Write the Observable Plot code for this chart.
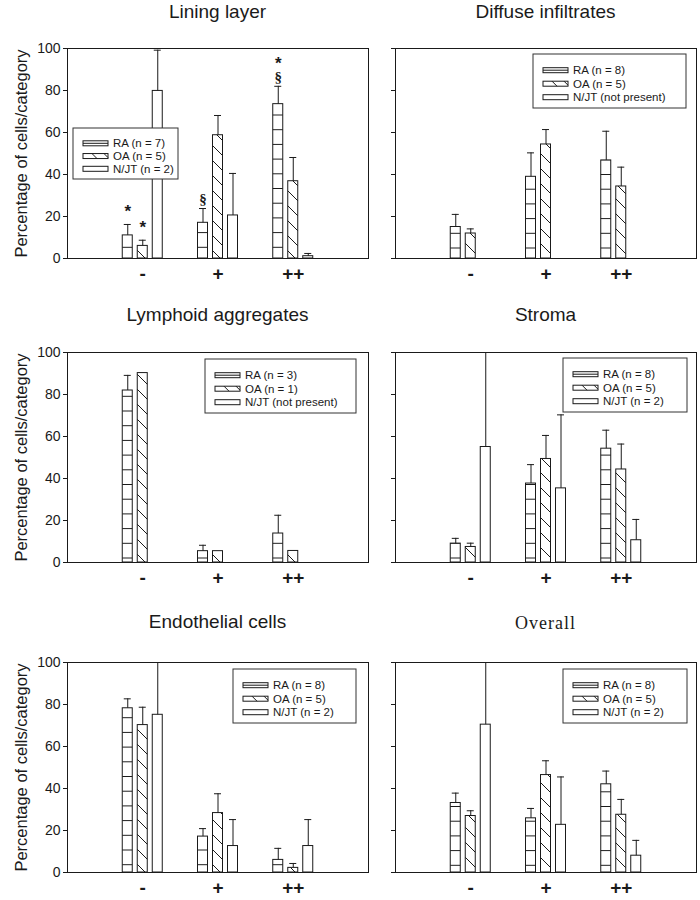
<!DOCTYPE html>
<html><head><meta charset="utf-8">
<script src="https://cdn.jsdelivr.net/npm/d3@7"></script>
<script src="https://cdn.jsdelivr.net/npm/@observablehq/plot@0.6"></script>
<style>
body{margin:0;background:#fff;}
#root{position:relative;width:700px;height:900px;overflow:hidden;font-family:"Liberation Sans",Arial,sans-serif;color:#1a1a1a;background:#fff;}
.title{position:absolute;text-align:center;font-size:19px;line-height:20px;white-space:nowrap;}
.title.serif{font-family:"Liberation Serif","Times New Roman",serif;font-size:18px;letter-spacing:1px;}
.panel{position:absolute;}
.panel svg{display:block;overflow:visible;}
</style></head><body><div id="root"></div>
<script>
// ---------- data ----------
const categories = ["-", "+", "++"];
const seriesNames = ["RA", "OA", "N/JT"];
const yTicks = [0, 20, 40, 60, 80, 100];
const yLabel = "Percentage of cells/category";

// means per series [RA, OA, N/JT] x categories [-, +, ++]; SD (upper error bar)
const liningMeans = [[11.0, 17.0, 73.5], [6.0, 58.7, 36.8], [79.8, 20.5, 1.1]];
const liningSDs   = [[5.2, 6.8, 8.5], [2.7, 9.4, 11.3], [19.4, 20.0, 1.3]];
const liningLegend = ["RA (n = 7)", "OA (n = 5)", "N/JT (n = 2)"];
// significance symbols, listed bottom to top for each bar
const liningMarks = [
  {cat: "-", series: "RA", sym: "*"},
  {cat: "-", series: "OA", sym: "*"},
  {cat: "+", series: "RA", sym: "§"},
  {cat: "++", series: "RA", sym: "§"},
  {cat: "++", series: "RA", sym: "*"}
];

const diffuseMeans = [[15.0, 38.9, 46.7], [11.9, 54.3, 34.3], [null, null, null]];
const diffuseSDs   = [[6.0, 11.4, 13.9], [2.2, 7.1, 9.2], [null, null, null]];
const diffuseLegend = ["RA (n = 8)", "OA (n = 5)", "N/JT (not present)"];

const lymphoidMeans = [[81.9, 5.4, 13.8], [90.2, 5.4, 5.5], [null, null, null]];
const lymphoidSDs   = [[7.2, 2.8, 8.7], [null, null, null], [null, null, null]];
const lymphoidLegend = ["RA (n = 3)", "OA (n = 1)", "N/JT (not present)"];

const stromaMeans = [[9.0, 37.6, 54.2], [7.4, 49.3, 44.3], [55.0, 35.3, 10.6]];
const stromaSDs   = [[2.5, 9.0, 8.8], [1.8, 11.2, 12.1], [55.0, 35.0, 9.9]];
const stromaLegend = ["RA (n = 8)", "OA (n = 5)", "N/JT (n = 2)"];

const endoMeans = [[78.2, 17.1, 6.0], [70.2, 28.3, 2.2], [75.1, 12.6, 12.6]];
const endoSDs   = [[4.5, 3.8, 5.5], [8.5, 9.2, 2.1], [35.0, 12.6, 12.6]];
const endoLegend = ["RA (n = 8)", "OA (n = 5)", "N/JT (n = 2)"];

const overallMeans = [[33.1, 25.8, 42.0], [26.9, 46.4, 27.5], [70.4, 22.7, 8.0]];
const overallSDs   = [[4.7, 4.7, 6.3], [2.5, 6.8, 7.3], [40.0, 22.8, 7.3]];
const overallLegend = ["RA (n = 8)", "OA (n = 5)", "N/JT (n = 2)"];

// ---------- layout ----------
const rowSvgTop = [38, 342, 652];
const rowTitleBaseline = [18.3, 321.7, 629];
const panels = [
  {title: "Lining layer", means: liningMeans, sds: liningSDs, legend: liningLegend, marks: liningMarks, col: 0, row: 0, raOff: 10.7, box: [73, 128, 105, 51]},
  {title: "Diffuse infiltrates", means: diffuseMeans, sds: diffuseSDs, legend: diffuseLegend, marks: [], col: 1, row: 0, raOff: 10, box: [533, 54, 153, 54]},
  {title: "Lymphoid aggregates", means: lymphoidMeans, sds: lymphoidSDs, legend: lymphoidLegend, marks: [], col: 0, row: 1, raOff: 4, box: [205, 359, 151, 54]},
  {title: "Stroma", means: stromaMeans, sds: stromaSDs, legend: stromaLegend, marks: [], col: 1, row: 1, raOff: 4, box: [563, 358, 124, 54]},
  {title: "Endothelial cells", means: endoMeans, sds: endoSDs, legend: endoLegend, marks: [], col: 0, row: 2, raOff: 7.3, box: [233, 669, 123, 54]},
  {title: "Overall", means: overallMeans, sds: overallSDs, legend: overallLegend, marks: [], col: 1, row: 2, raOff: 6.7, box: [563, 669, 124, 54], serif: true}
];

const INK = "#1a1a1a";
const root = document.getElementById("root");

panels.forEach((p, idx) => {
  const isLeft = p.col === 0;
  const svgLeft = isLeft ? 0 : 350;
  const svgTop = rowSvgTop[p.row];
  const W = isLeft ? 372 : 350;
  const mL = isLeft ? 67 : 45, mR = 4, mT = 10, mB = 30, H = 250;
  const frameW = W - mL - mR;
  const frameH = H - mT - mB;
  const unit = frameW / 4;
  const off = 15 / unit, half = 5 / unit, capHalf = 3.5 / unit;
  const pid = "p" + idx;

  const bars = [];
  p.means.forEach((arr, si) => arr.forEach((m, ci) => {
    if (m == null) return;
    const sd = p.sds[si][ci];
    bars.push({si, ci, cat: categories[ci], series: seriesNames[si], mean: m, sd, xc: ci + 1 + (si - 1) * off});
  }));
  const errs = bars.filter(d => d.sd != null);
  const fills = [`url(#${pid}-ra)`, `url(#${pid}-oa)`, "white"];

  const marks = [
    Plot.axisY({ticks: yTicks, tickSize: 4, tickPadding: 3, fontSize: 14, label: null,
                tickFormat: isLeft ? (d => String(d)) : (() => "")}),
    Plot.axisX({ticks: [1, 2, 3], tickFormat: d => categories[d - 1], tickSize: 0, tickPadding: 8,
                fontSize: 19, fontWeight: "bold", label: null}),
    ...[0, 1, 2].map(si => Plot.rect(bars.filter(d => d.si === si), {
      x1: d => d.xc - half, x2: d => d.xc + half, y1: 0, y2: "mean",
      fill: fills[si], stroke: INK, strokeWidth: 1
    })),
    Plot.ruleX(errs, {x: "xc", y1: "mean", y2: d => d.mean + d.sd, stroke: INK, strokeWidth: 1, clip: true}),
    Plot.ruleY(errs, {y: d => d.mean + d.sd, x1: d => d.xc - capHalf, x2: d => d.xc + capHalf, stroke: INK, strokeWidth: 1, clip: true}),
    Plot.frame({stroke: INK, strokeWidth: 1})
  ];
  if (isLeft) {
    marks.push(Plot.text([yLabel], {frameAnchor: "left", text: d => d, rotate: -90, dx: -46, fontSize: 16.5,
                                    textAnchor: "middle", lineAnchor: "middle", fill: INK}));
  }
  // significance annotations (stacked upward when several on one bar)
  p.marks.forEach((a, k) => {
    const b = bars.find(d => d.cat === a.cat && d.series === a.series);
    const level = p.marks.slice(0, k).filter(o => o.cat === a.cat && o.series === a.series).length;
    const top = b.mean + (b.sd || 0);
    const isStar = a.sym === "*";
    const dy = isStar ? (level ? -23 : -13) : -9;
    marks.push(Plot.text([{x: b.xc, y: top, t: a.sym}], {
      x: "x", y: "y", text: "t", dy,
      fontSize: isStar ? 17 : 15, fontWeight: "bold",
      fontFamily: isStar ? "Liberation Sans, Arial, sans-serif" : "Liberation Serif, Times New Roman, serif",
      fill: INK
    }));
  });

  const svgNode = Plot.plot({
    width: W, height: H, marginLeft: mL, marginRight: mR, marginTop: mT, marginBottom: mB,
    x: {type: "linear", domain: [0, 4], axis: null},
    y: {domain: [0, 100], axis: null},
    style: {fontFamily: "Liberation Sans, Arial, sans-serif", background: "transparent", color: INK, overflow: "visible"},
    marks
  });

  const svg = d3.select(svgNode);
  const defs = svg.insert("defs", ":first-child");
  const period = frameH * 7 / 100;
  const ra = defs.append("pattern").attr("id", pid + "-ra").attr("patternUnits", "userSpaceOnUse")
    .attr("x", 0).attr("y", mT + frameH - p.raOff - period / 2).attr("width", 20).attr("height", period);
  ra.append("rect").attr("width", 20).attr("height", period).attr("fill", "white");
  ra.append("line").attr("x1", 0).attr("x2", 20).attr("y1", period / 2).attr("y2", period / 2)
    .attr("stroke", INK).attr("stroke-width", 1);
  const oa = defs.append("pattern").attr("id", pid + "-oa").attr("patternUnits", "userSpaceOnUse")
    .attr("x", 0).attr("y", 0).attr("width", 15).attr("height", 15);
  oa.append("rect").attr("width", 15).attr("height", 15).attr("fill", "white");
  oa.append("path").attr("d", "M0,0L15,15M-2,13L2,17M13,-2L17,2").attr("stroke", INK).attr("stroke-width", 1).attr("fill", "none");

  // legend
  const [bx, by, bw, bh] = p.box;
  const lg = svg.append("g").attr("transform", `translate(${bx - svgLeft},${by - svgTop})`)
    .attr("font-family", "Liberation Sans, Arial, sans-serif").attr("font-size", 11.5).attr("fill", INK)
    .attr("text-anchor", "start");
  lg.append("rect").attr("width", bw).attr("height", bh).attr("fill", "white").attr("stroke", "#333").attr("stroke-width", 1);
  p.legend.forEach((label, i) => {
    const cy = bh * 0.3 + i * bh * 0.25;
    const sx = 10, sw = 25, sh = 5, sy = cy - sh / 2;
    lg.append("rect").attr("x", sx).attr("y", sy).attr("width", sw).attr("height", sh)
      .attr("fill", "white").attr("stroke", INK).attr("stroke-width", 1);
    if (i === 0) {
      lg.append("line").attr("x1", sx).attr("x2", sx + sw).attr("y1", cy).attr("y2", cy).attr("stroke", INK).attr("stroke-width", 1);
    } else if (i === 1) {
      lg.append("path").attr("d", `M${sx + 9},${sy}L${sx + 14},${sy + sh}M${sx + 21},${sy}L${sx + 25},${sy + 4}`)
        .attr("stroke", INK).attr("stroke-width", 1).attr("fill", "none");
    }
    lg.append("text").attr("x", 40).attr("y", cy).attr("dy", "0.35em").attr("text-anchor", "start").text(label);
  });

  const div = document.createElement("div");
  div.className = "panel";
  div.style.left = svgLeft + "px";
  div.style.top = svgTop + "px";
  div.style.width = W + "px";
  div.appendChild(svgNode);
  root.appendChild(div);

  const t = document.createElement("div");
  t.className = "title" + (p.serif ? " serif" : "");
  t.textContent = p.title;
  t.style.left = (svgLeft + mL) + "px";
  t.style.width = frameW + "px";
  t.style.top = (rowTitleBaseline[p.row] - (p.serif ? 16 : 16.6)) + "px";
  root.appendChild(t);
});
</script>
</body></html>
